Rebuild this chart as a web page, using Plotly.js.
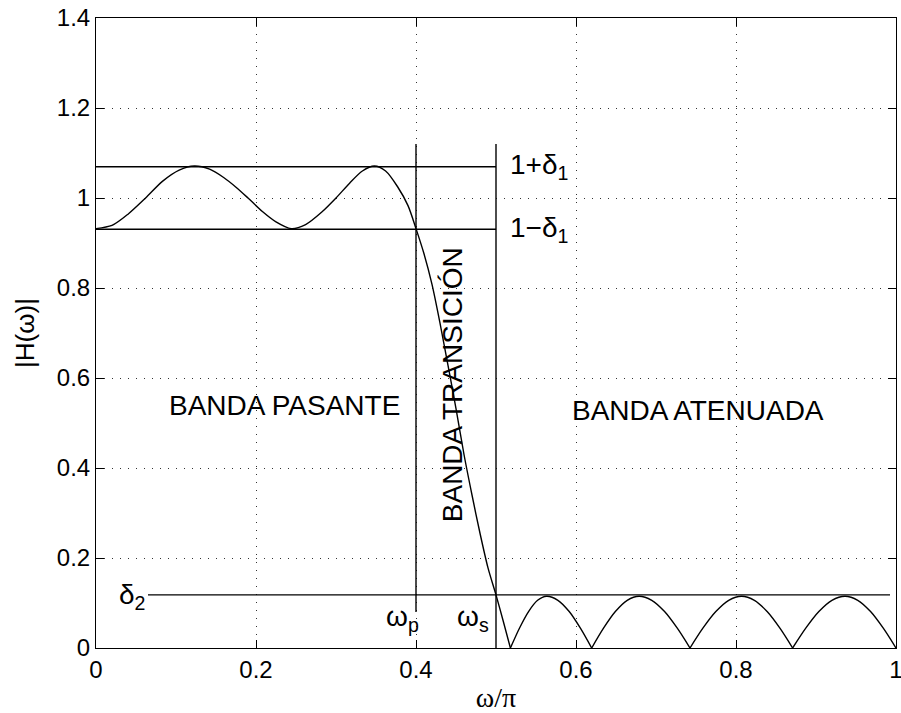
<!DOCTYPE html>
<html>
<head>
<meta charset="utf-8">
<script src="https://cdn.plot.ly/plotly-3.0.1.min.js"></script>
<style>
  html, body { margin: 0; padding: 0; background: #fff; }
  #chart { width: 901px; height: 713px; }
</style>
</head>
<body>
<div id="chart"></div>
<script>
// Magnitude response |H(w)| of an equiripple low-pass filter (w normalised by pi).
// Passband ripple, steep transition, then the stopband lobes.
const omega = [
  0.000, 0.020, 0.040, 0.062, 0.083, 0.104, 0.123, 0.142, 0.160, 0.175,
  0.190, 0.208, 0.225, 0.244, 0.262, 0.283, 0.300, 0.317, 0.333, 0.348,
  0.362, 0.377, 0.390, 0.400, 0.410, 0.420, 0.430, 0.440, 0.450, 0.460,
  0.470, 0.480, 0.490, 0.500, 0.509, 0.518,
  0.5293, 0.5407, 0.5520, 0.5633, 0.5774, 0.5915, 0.6055, 0.6196,
  0.6344, 0.6492, 0.6640, 0.6788, 0.6947, 0.7107, 0.7266, 0.7425,
  0.7586, 0.7748, 0.7909, 0.8070, 0.8230, 0.8389, 0.8549, 0.8708,
  0.8872, 0.9036, 0.9199, 0.9363, 0.9522, 0.9682, 0.9841, 1.0000
];
const mag = [
  0.932, 0.939, 0.964, 1.000, 1.037, 1.062, 1.071, 1.064, 1.045, 1.024,
  1.000, 0.970, 0.947, 0.932, 0.941, 0.970, 1.000, 1.033, 1.060, 1.071,
  1.060, 1.025, 0.983, 0.932, 0.876, 0.808, 0.722, 0.628, 0.532, 0.430,
  0.340, 0.255, 0.178, 0.118, 0.060, 0.000,
  0.044, 0.081, 0.106, 0.115, 0.106, 0.081, 0.044, 0.000,
  0.044, 0.081, 0.106, 0.115, 0.106, 0.081, 0.044, 0.000,
  0.044, 0.081, 0.106, 0.115, 0.106, 0.081, 0.044, 0.000,
  0.044, 0.081, 0.106, 0.115, 0.106, 0.081, 0.044, 0.000
];

// Tolerance scheme
const delta1 = 0.0696;
const delta2 = 0.118;
const omegaP = 0.4;
const omegaS = 0.5;
const bandEdgeTop = 1.12;
const omegaPLineBottom = 0.08;
const delta2LineStart = 0.065;
const delta2LineEnd = 0.9925;

// Axis ticks
const xTicks = [0, 0.2, 0.4, 0.6, 0.8, 1];
const xTickText = ['0', '0.2', '0.4', '0.6', '0.8', '1'];
const yTicks = [0, 0.2, 0.4, 0.6, 0.8, 1, 1.2, 1.4];
const yTickText = ['0', '0.2', '0.4', '0.6', '0.8', '1', '1.2', '1.4'];

const SANS = 'Liberation Sans, Arial, sans-serif';
const lineStyle = { color: '#000', width: 1.4 };

// Split the response at its zeros so the lobes keep their sharp notches.
const segments = [];
let cur = { x: [], y: [] };
for (let i = 0; i < omega.length; i++) {
  cur.x.push(omega[i]);
  cur.y.push(mag[i]);
  if (mag[i] === 0 && i > 0 && i < omega.length - 1) {
    segments.push(cur);
    cur = { x: [omega[i]], y: [mag[i]] };
  }
}
segments.push(cur);

const traces = segments.map(s => ({
  x: s.x, y: s.y, type: 'scatter', mode: 'lines',
  line: Object.assign({ shape: 'spline', smoothing: 0.8 }, lineStyle),
  hoverinfo: 'skip'
}));

function seg(x, y) {
  return { x: x, y: y, type: 'scatter', mode: 'lines', line: lineStyle, hoverinfo: 'skip' };
}
traces.push(seg([0, omegaS], [1 + delta1, 1 + delta1]));
traces.push(seg([0, omegaS], [1 - delta1, 1 - delta1]));
traces.push(seg([omegaP, omegaP], [omegaPLineBottom, bandEdgeTop]));
traces.push(seg([omegaS, omegaS], [0, bandEdgeTop]));
traces.push(seg([delta2LineStart, delta2LineEnd], [delta2, delta2]));

const annFont = { family: SANS, size: 28, color: '#000' };
function label(text, x, y, xanchor, yanchor, extra) {
  return Object.assign({
    text: text, x: x, y: y, xref: 'x', yref: 'y',
    xanchor: xanchor, yanchor: yanchor, showarrow: false, font: annFont
  }, extra || {});
}

const annotations = [
  label('BANDA PASANTE', 0.236, 0.538, 'center', 'middle'),
  label('BANDA ATENUADA', 0.752, 0.527, 'center', 'middle'),
  label('BANDA TRANSICIÓN', 0.445, 0.584, 'center', 'middle', { textangle: -90 }),
  label('1+δ<sub>1</sub>', 0.515, 1 + delta1, 'left', 'middle'),
  label('1−δ<sub>1</sub>', 0.515, 1 - delta1, 'left', 'middle'),
  label('δ<sub>2</sub>', delta2LineStart, delta2 - 0.004, 'right', 'middle'),
  label('ω<sub>p</sub>', 0.406, 0.066, 'right', 'middle'),
  label('ω<sub>s</sub>', 0.494, 0.066, 'right', 'middle')
];

const axisCommon = {
  showline: true, linecolor: '#000', linewidth: 1, mirror: 'ticks',
  ticks: 'inside', ticklen: 8, tickwidth: 1, tickcolor: '#000',
  showgrid: true, gridcolor: '#333', gridwidth: 1, griddash: '1px,7px',
  zeroline: false, ticklabeloverflow: 'allow',
  tickfont: { family: SANS, size: 24, color: '#000' }
};

const layout = {
  width: 901, height: 713,
  margin: { l: 96, r: 5, t: 18, b: 65 },
  paper_bgcolor: '#fff', plot_bgcolor: '#fff',
  showlegend: false,
  xaxis: Object.assign({}, axisCommon, {
    range: [0, 1], tickvals: xTicks, ticktext: xTickText,
    title: { text: 'ω/π', font: { family: 'Liberation Serif, serif', size: 28, color: '#000' }, standoff: 11 }
  }),
  yaxis: Object.assign({}, axisCommon, {
    range: [0, 1.4], tickvals: yTicks, ticktext: yTickText,
    title: { text: '|H(ω)|', font: { family: SANS, size: 26, color: '#000' }, standoff: 14 }
  }),
  annotations: annotations
};

Plotly.newPlot('chart', traces, layout, { staticPlot: true, displayModeBar: false });
</script>
</body>
</html>
